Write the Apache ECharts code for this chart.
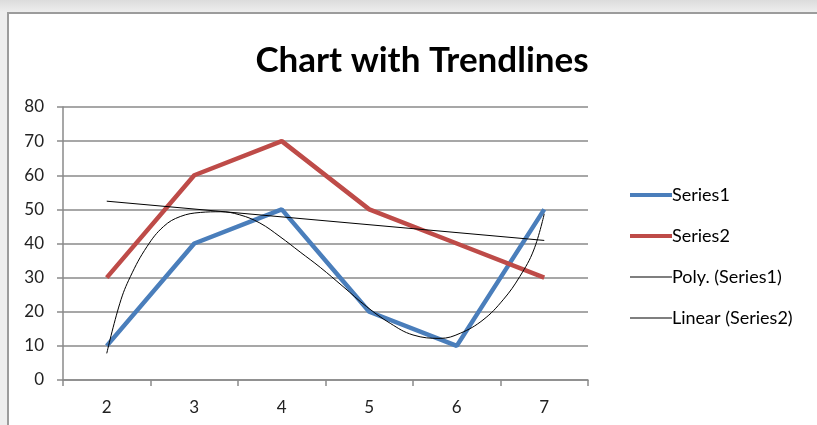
<!DOCTYPE html>
<html>
<head>
<meta charset="utf-8">
<script src="https://cdn.jsdelivr.net/npm/echarts@6/dist/echarts.min.js"></script>
<style>
  html, body { margin: 0; padding: 0; width: 817px; height: 425px; overflow: hidden; }
  body { background: linear-gradient(#dcdcdc, #eeeeee 12px); position: relative; }
  .frame {
    position: absolute; left: 7px; top: 12px; width: 840px; height: 440px;
    background: #fff; border-top: 2px solid #9c9c9c; border-left: 2px solid #9c9c9c;
  }
  #chart { position: absolute; left: 0; top: 0; width: 817px; height: 425px; }
</style>
</head>
<body>
<div class="frame"></div>
<div id="chart"></div>
<script>
// 类目与数据
const categories = ['2', '3', '4', '5', '6', '7']
const series1 = [10, 40, 50, 20, 10, 50]
const series2 = [30, 60, 70, 50, 40, 30]

// 趋势线（从图上读取的点，x 为类目值）
const polyX = [2, 2.15, 2.27, 2.46, 2.65, 2.84, 3.07, 3.3, 3.52, 3.75, 3.98, 4.21, 4.44, 4.7, 4.97, 5.24, 5.5, 5.81, 6.04, 6.3, 6.53, 6.72, 6.88, 7]
const polyY = [7.8, 22.5, 30.3, 39.1, 45, 47.9, 49.1, 49.3, 48.4, 46, 42, 37.5, 33, 27.4, 21.5, 16.6, 13.2, 12.2, 13.7, 17.6, 23.5, 30.3, 38.1, 48.7]
const linearX = [2, 7]
const linearY = [52.4, 40.9]

const chart = echarts.init(document.getElementById('chart'))

const lineColor = '#8a8a8a'
const font = 'Lato, "Open Sans", sans-serif'

const option = {
  backgroundColor: 'transparent',
  animation: false,
  title: {
    text: 'Chart with Trendlines',
    left: 417,
    textAlign: 'center',
    top: 38,
    textStyle: { fontFamily: font, fontSize: 35, fontWeight: 'bold', color: '#000' }
  },
  legend: {
    orient: 'vertical',
    left: 625,
    top: 181,
    itemGap: 23,
    itemWidth: 42,
    itemHeight: 19,
    textStyle: { fontFamily: font, fontSize: 18, color: '#000', padding: [0, 0, 0, -5] },
    data: [
      { name: 'Series1', icon: 'path://M0,0H42V4H0Z' },
      { name: 'Series2', icon: 'path://M0,0H42V4H0Z' },
      { name: 'Poly. (Series1)', icon: 'path://M0,0H42V1H0Z' },
      { name: 'Linear (Series2)', icon: 'path://M0,0H42V1H0Z' }
    ]
  },
  grid: { left: 63, right: 229, top: 107, bottom: 45 },
  xAxis: [
    {
      type: 'category',
      data: categories,
      boundaryGap: true,
      axisLine: { lineStyle: { color: lineColor, width: 1.5 } },
      axisTick: { show: true, length: 6, inside: false, lineStyle: { color: lineColor, width: 1.5 } },
      axisLabel: { fontFamily: font, fontSize: 17, color: '#222', margin: 19 }
    },
    {
      type: 'value',
      min: 1.5,
      max: 7.5,
      show: false
    }
  ],
  yAxis: {
    type: 'value',
    min: 0,
    max: 80,
    interval: 10,
    axisLine: { show: true, lineStyle: { color: lineColor, width: 1.5 } },
    axisTick: { show: true, length: 6, lineStyle: { color: lineColor, width: 1.5 } },
    axisLabel: { fontFamily: font, fontSize: 17, color: '#222', margin: 19 },
    splitLine: { lineStyle: { color: lineColor, width: 1.5 } }
  },
  series: [
    {
      name: 'Series1',
      type: 'line',
      data: series1,
      symbol: 'none',
      itemStyle: { color: '#4a7ebb' },
      lineStyle: { color: '#4a7ebb', width: 4.5 }
    },
    {
      name: 'Series2',
      type: 'line',
      data: series2,
      symbol: 'none',
      itemStyle: { color: '#be4b48' },
      lineStyle: { color: '#be4b48', width: 4.5 }
    },
    {
      name: 'Poly. (Series1)',
      type: 'line',
      xAxisIndex: 1,
      data: polyX.map((x, i) => [x, polyY[i]]),
      smooth: 0.4,
      symbol: 'none',
      itemStyle: { color: '#000' },
      lineStyle: { color: '#000', width: 1 }
    },
    {
      name: 'Linear (Series2)',
      type: 'line',
      xAxisIndex: 1,
      data: linearX.map((x, i) => [x, linearY[i]]),
      symbol: 'none',
      itemStyle: { color: '#000' },
      lineStyle: { color: '#000', width: 1 }
    }
  ]
}

chart.setOption(option)
</script>
</body>
</html>
